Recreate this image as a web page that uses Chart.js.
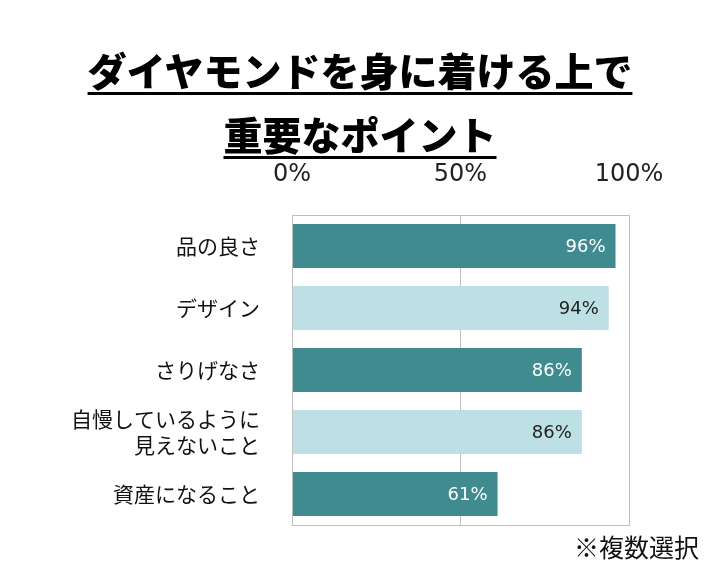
<!DOCTYPE html>
<html>
<head>
<meta charset="utf-8">
<script src="https://cdn.jsdelivr.net/npm/chart.js@4.4.1/dist/chart.umd.min.js"></script>
<style>
  html, body { margin: 0; padding: 0; background: #ffffff; }
  #wrap { position: relative; width: 720px; height: 572px; overflow: hidden; }
  #title {
    position: absolute; left: 0; top: 37px; width: 720px; text-align: center;
    font-family: "Noto Sans CJK JP", sans-serif; font-weight: 900; font-size: 39px;
    line-height: 64px; color: #000;
    text-decoration: underline; text-decoration-thickness: 3px; text-underline-offset: 6px;
  }
  #note {
    position: absolute; right: 21px; top: 528px;
    font-family: "Noto Sans CJK JP", sans-serif; font-size: 25px; color: #111;
  }
  canvas { position: absolute; left: 0; top: 0; }
</style>
</head>
<body>
<div id="wrap">
  <canvas id="c" width="720" height="572"></canvas>
  <div id="title">ダイヤモンドを身に着ける上で<br>重要なポイント</div>
  <div id="note">※複数選択</div>
</div>
<script>
const categories = ['品の良さ', 'デザイン', 'さりげなさ', ['自慢しているように', '見えないこと'], '資産になること'];
const values = [96, 94, 86, 86, 61];
const tickValues = [0, 50, 100];

const barColors = ['#408B90', '#BCE0E3', '#408B90', '#BCE0E3', '#408B90'];
const labelColors = ['#FFFFFF', '#222222', '#FFFFFF', '#222222', '#FFFFFF'];
const gridColor = '#BFBFBF';
const FONT = '"Noto Sans CJK JP", sans-serif';
const NUMFONT = '"DejaVu Sans", sans-serif';

const boxPlugin = {
  id: 'box',
  afterDraw(chart) {
    const a = chart.chartArea, ctx = chart.ctx;
    ctx.save();
    ctx.strokeStyle = gridColor;
    ctx.lineWidth = 1;
    ctx.strokeRect(Math.round(a.left) + 0.5, Math.round(a.top) + 0.5, Math.round(a.right - a.left), Math.round(a.bottom - a.top));
    ctx.restore();
  }
};

const valueLabels = {
  id: 'valueLabels',
  afterDatasetsDraw(chart) {
    const ctx = chart.ctx;
    const meta = chart.getDatasetMeta(0);
    ctx.save();
    ctx.font = '18px ' + NUMFONT;
    ctx.textAlign = 'right';
    ctx.textBaseline = 'middle';
    meta.data.forEach((bar, i) => {
      ctx.fillStyle = labelColors[i];
      ctx.fillText(values[i] + '%', bar.x - 10, bar.y + 1);
    });
    ctx.restore();
  }
};

new Chart(document.getElementById('c'), {
  type: 'bar',
  data: {
    labels: categories,
    datasets: [{
      data: values,
      backgroundColor: barColors,
      borderWidth: 0,
      categoryPercentage: 1.0,
      barPercentage: 0.71
    }]
  },
  options: {
    indexAxis: 'y',
    responsive: false,
    animation: false,
    devicePixelRatio: 1,
    layout: { padding: { top: 150, bottom: 47, right: 91, left: 0 } },
    plugins: { legend: { display: false }, tooltip: { enabled: false }, title: { display: false } },
    scales: {
      x: {
        position: 'top',
        min: 0, max: 100,
        afterBuildTicks(scale) { scale.ticks = tickValues.map(v => ({ value: v })); },
        afterFit(scale) { scale.height = 65; },
        ticks: {
          callback: v => v + '%',
          font: { family: NUMFONT, size: 24 },
          color: '#222222',
          padding: 26
        },
        grid: { color: gridColor, drawTicks: false, lineWidth: 1 },
        border: { display: true, color: gridColor }
      },
      y: {
        afterFit(scale) { scale.width = 292; },
        ticks: {
          font: { family: FONT, size: 21, lineHeight: 1.25 },
          color: '#111111',
          padding: 32,
          autoSkip: false
        },
        grid: { display: false, drawTicks: false },
        border: { display: true, color: gridColor }
      }
    }
  },
  plugins: [boxPlugin, valueLabels]
});
</script>
</body>
</html>
